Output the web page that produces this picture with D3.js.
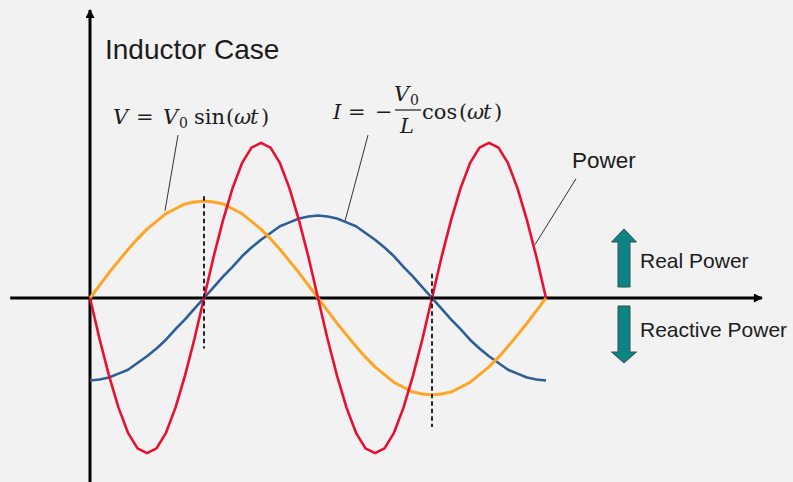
<!DOCTYPE html>
<html>
<head>
<meta charset="utf-8">
<script src="https://cdn.jsdelivr.net/npm/d3@7"></script>
<style>
  html, body { margin: 0; padding: 0; background: #f2f2f2; }
  svg { display: block; }
</style>
</head>
<body>
<svg id="chart"></svg>
<script>
// sample angles (degrees of omega*t) at which the curves are drawn
const angles = [0, 7.5, 15, 22.5, 30, 37.5, 45, 52.5, 60, 67.5, 75, 82.5, 90,
  97.5, 105, 112.5, 120, 127.5, 135, 142.5, 150, 157.5, 165, 172.5, 180,
  187.5, 195, 202.5, 210, 217.5, 225, 232.5, 240, 247.5, 255, 262.5, 270,
  277.5, 285, 292.5, 300, 307.5, 315, 322.5, 330, 337.5, 345, 352.5, 360];

// V = V0 sin(wt)
const voltage = [0, .13, .26, .38, .5, .61, .71, .79, .87, .92, .97, .99, 1,
  .99, .97, .92, .87, .79, .71, .61, .5, .38, .26, .13, 0,
  -.13, -.26, -.38, -.5, -.61, -.71, -.79, -.87, -.92, -.97, -.99, -1,
  -.99, -.97, -.92, -.87, -.79, -.71, -.61, -.5, -.38, -.26, -.13, 0];

// I = -(V0/L) cos(wt)
const current = [-.85, -.84, -.82, -.78, -.74, -.67, -.6, -.52, -.43, -.32, -.22, -.11, 0,
  .11, .22, .32, .43, .52, .6, .67, .74, .78, .82, .84, .85,
  .84, .82, .78, .74, .67, .6, .52, .43, .32, .22, .11, 0,
  -.11, -.22, -.32, -.43, -.52, -.6, -.67, -.74, -.78, -.82, -.84, -.85];

// P = V * I
const power = [0, -.42, -.8, -1.13, -1.39, -1.55, -1.6, -1.55, -1.39, -1.13, -.8, -.42, 0,
  .42, .8, 1.13, 1.39, 1.55, 1.6, 1.55, 1.39, 1.13, .8, .42, 0,
  -.42, -.8, -1.13, -1.39, -1.55, -1.6, -1.55, -1.39, -1.13, -.8, -.42, 0,
  .42, .8, 1.13, 1.39, 1.55, 1.6, 1.55, 1.39, 1.13, .8, .42, 0];

// dashed markers at the voltage extremes: [angle, from, to]
const dashMarks = [[90, 1.05, -0.52], [270, 0.25, -1.33]];

// leader lines from labels to curves: [[angle, value], [angle, value]]
const leaders = [
  [[69.5, 1.68], [59.2, 0.90]],
  [[219.5, 1.68], [201.3, 0.79]],
  [[383.7, 1.23], [351.3, 0.55]]
];

const width = 793, height = 482;

const svg = d3.select("#chart")
  .attr("width", width)
  .attr("height", height);

svg.append("rect")
  .attr("width", width)
  .attr("height", height)
  .attr("fill", "#f2f2f2");

// scales
let x = d3.scaleLinear().domain([0, 360]).range([90, 546]);
let y = d3.scaleLinear().domain([-1, 1]).range([395, 201]);

// arrow head for axes
const defs = svg.append("defs");
defs.append("marker")
  .attr("id", "axisArrow")
  .attr("markerUnits", "userSpaceOnUse")
  .attr("viewBox", "0 0 10 10")
  .attr("refX", 9)
  .attr("refY", 5)
  .attr("markerWidth", 10)
  .attr("markerHeight", 9)
  .attr("orient", "auto")
  .append("path")
  .attr("d", "M0,0 L10,5 L0,10 z")
  .attr("fill", "#000");

// axes
svg.append("line")
  .attr("x1", x(-63)).attr("y1", y(0))
  .attr("x2", x(530.5)).attr("y2", y(0))
  .attr("stroke", "#000")
  .attr("stroke-width", 3)
  .attr("marker-end", "url(#axisArrow)");

svg.append("line")
  .attr("x1", x(0)).attr("y1", y(-1.95))
  .attr("x2", x(0)).attr("y2", y(2.97))
  .attr("stroke", "#000")
  .attr("stroke-width", 3)
  .attr("marker-end", "url(#axisArrow)");

// curves
const line = d3.line()
  .x(function (d) { return x(d[0]); })
  .y(function (d) { return y(d[1]); });

const series = [
  { name: "current", values: current, color: "#2d5f97", w: 2.6 },
  { name: "voltage", values: voltage, color: "#ffa526", w: 3 },
  { name: "power", values: power, color: "#e8102e", w: 2.6 }
];

series.forEach(function (s) {
  svg.append("path")
    .datum(angles.map(function (a, i) { return [a, s.values[i]]; }))
    .attr("class", s.name)
    .attr("fill", "none")
    .attr("stroke", s.color)
    .attr("stroke-width", s.w)
    .attr("stroke-linejoin", "round")
    .attr("d", line);
});

// dashed verticals
svg.selectAll(".dash")
  .data(dashMarks)
  .enter().append("line")
  .attr("class", "dash")
  .attr("x1", function (d) { return x(d[0]); })
  .attr("x2", function (d) { return x(d[0]); })
  .attr("y1", function (d) { return y(d[1]); })
  .attr("y2", function (d) { return y(d[2]); })
  .attr("stroke", "#111")
  .attr("stroke-width", 1.8)
  .attr("stroke-dasharray", "4.5,3");

// leader lines
svg.selectAll(".leader")
  .data(leaders)
  .enter().append("line")
  .attr("class", "leader")
  .attr("x1", function (d) { return x(d[0][0]); })
  .attr("y1", function (d) { return y(d[0][1]); })
  .attr("x2", function (d) { return x(d[1][0]); })
  .attr("y2", function (d) { return y(d[1][1]); })
  .attr("stroke", "#333")
  .attr("stroke-width", 1);

// plain labels
const sans = "'Liberation Sans', Arial, sans-serif";
function label(txt, px, py, size) {
  svg.append("text")
    .attr("x", px)
    .attr("y", py)
    .attr("font-family", sans)
    .attr("font-size", size)
    .attr("fill", "#1c1c1c")
    .text(txt);
}
label("Inductor Case", 105, 59, 28);
label("Power", 572, 168, 22.5);
label("Real Power", 640, 268, 21);
label("Reactive Power", 640, 337, 21);

// math labels, piece by piece
const serif = "'DejaVu Serif', 'Liberation Serif', serif";
function mathPiece(txt, px, py, size, italic) {
  svg.append("text")
    .attr("x", px)
    .attr("y", py)
    .attr("font-family", serif)
    .attr("font-size", size)
    .attr("font-style", italic ? "italic" : "normal")
    .attr("fill", "#1c1c1c")
    .text(txt);
}
// V = V0 sin(wt)
mathPiece("V", 113, 124, 21, true);
mathPiece("=", 136, 124, 21, false);
mathPiece("V", 163, 124, 21, true);
mathPiece("0", 179, 128, 14, false);
mathPiece("sin", 194, 124, 21, false);
mathPiece("(", 226, 124, 21, false);
mathPiece("\u03c9", 234, 124, 21, true);
mathPiece("t", 250, 124, 21, true);
mathPiece(")", 261, 124, 21, false);

// I = -(V0/L) cos(wt)
mathPiece("I", 333, 119, 21, true);
mathPiece("=", 348, 119, 21, false);
mathPiece("\u2212", 375, 119, 21, false);
mathPiece("V", 394, 101, 21, true);
mathPiece("0", 410, 105, 14, false);
svg.append("line")
  .attr("x1", 395).attr("x2", 421)
  .attr("y1", 110).attr("y2", 110)
  .attr("stroke", "#1c1c1c")
  .attr("stroke-width", 1.2);
mathPiece("L", 400, 133, 21, true);
mathPiece("cos", 422, 119, 21, false);
mathPiece("(", 459, 119, 21, false);
mathPiece("\u03c9", 467, 119, 21, true);
mathPiece("t", 483, 119, 21, true);
mathPiece(")", 494, 119, 21, false);

// teal block arrows for real / reactive power
function blockArrow(cx, tip, base, end) {
  // tip: arrow point, base: where head meets shaft, end: shaft end
  const p = d3.path();
  p.moveTo(cx, tip);
  p.lineTo(cx + 12.5, base);
  p.lineTo(cx + 6, base);
  p.lineTo(cx + 6, end);
  p.lineTo(cx - 6, end);
  p.lineTo(cx - 6, base);
  p.lineTo(cx - 12.5, base);
  p.closePath();
  svg.append("path")
    .attr("d", p.toString())
    .attr("fill", "#0e8383")
    .attr("stroke", "#2b5252")
    .attr("stroke-width", 1);
}
blockArrow(624, 229, 242, 287);
blockArrow(624, 363, 352, 306);
</script>
</body>
</html>
